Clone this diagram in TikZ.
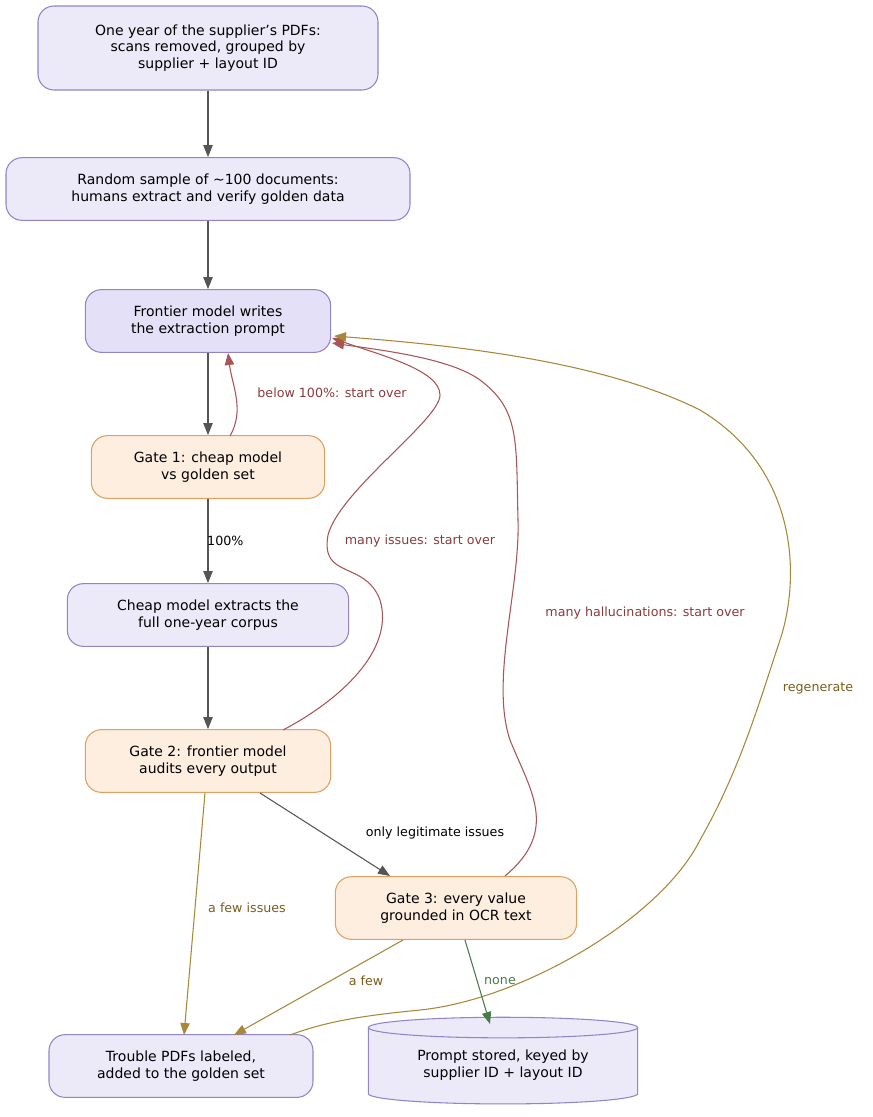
\documentclass[tikz,border=0pt]{standalone}
\usepackage{fontspec}
\setmainfont{DejaVu Sans}
\usetikzlibrary{arrows.meta,shapes.geometric}
\definecolor{lav}{HTML}{ECEAF9}
\definecolor{lavd}{HTML}{E4E0F7}
\definecolor{lavs}{HTML}{9384C8}
\definecolor{orf}{HTML}{FDEEE0}
\definecolor{ors}{HTML}{E0A060}
\definecolor{gedge}{HTML}{555555}
\definecolor{redge}{HTML}{A85555}
\definecolor{rlab}{HTML}{8B3A3A}
\definecolor{gold}{HTML}{A88838}
\definecolor{goldl}{HTML}{7A5C1E}
\definecolor{grn}{HTML}{4A7A4A}
\begin{document}
\begin{tikzpicture}[x=0.75pt,y=-0.75pt,
 box/.style={draw=lavs,fill=lav,line width=0.8pt,rounded corners=12pt,align=center,font=\fontsize{10.5}{12.5}\selectfont,inner sep=0pt},
 gate/.style={box,draw=ors,fill=orf},
 tip/.style={-{Triangle[length=9pt,width=7pt]}},
 ge/.style={tip,draw=gedge,color=gedge,line width=0.8pt},
 re/.style={tip,draw=redge,color=redge,line width=0.8pt},
 go/.style={tip,draw=gold,color=gold,line width=0.8pt},
 lab/.style={font=\fontsize{9.5}{11}\selectfont,inner sep=1pt,text=black}]
\useasboundingbox (0,0) rectangle (872,1117);
\node[box,minimum width=255pt,minimum height=63pt] (n1) at (208,48) {One year of the supplier's PDFs:\\scans removed, grouped by\\supplier + layout ID};
\node[box,minimum width=303pt,minimum height=47pt] (n2) at (208,189) {Random sample of \textasciitilde100 documents:\\humans extract and verify golden data};
\node[box,fill=lavd,minimum width=184pt,minimum height=47pt] (n3) at (208,321) {Frontier model writes\\the extraction prompt};
\node[gate,minimum width=175pt,minimum height=47pt] (g1) at (208,467) {Gate 1: cheap model\\vs golden set};
\node[box,minimum width=211pt,minimum height=47pt] (n5) at (208,615) {Cheap model extracts the\\full one-year corpus};
\node[gate,minimum width=184pt,minimum height=47pt] (g2) at (208,761) {Gate 2: frontier model\\audits every output};
\node[gate,minimum width=181pt,minimum height=47pt] (g3) at (456,908) {Gate 3: every value\\grounded in OCR text};
\node[box,minimum width=198pt,minimum height=47pt] (t) at (181,1066) {Trouble PDFs labeled,\\added to the golden set};
\node[cylinder,shape border rotate=90,aspect=0.12,draw=lavs,fill=lav,line width=0.8pt,minimum width=202pt,minimum height=65pt,align=center,font=\fontsize{10.5}{12.5}\selectfont,inner sep=0pt] (db) at (503,1066) {\\[-6pt]Prompt stored, keyed by\\supplier ID + layout ID};
\coordinate (g2a) at (260,793);
\coordinate (g3a) at (390,876);
\coordinate (g1a) at (230,436);
\coordinate (n3b) at (228,353);
\coordinate (n3e) at (332,338);
\draw[ge] (n1) -- (n2);
\draw[ge] (n2) -- (n3);
\draw[ge] (n3) -- (g1);
\draw[ge] (g1) -- node[lab,right,xshift=-2pt]{100\%} (n5);
\draw[ge] (n5) -- (g2);
\draw[ge] (g2a) -- (g3a);
\node[lab] at (435,833) {only legitimate issues};
\draw[re] (g1a) .. controls (245,410) and (232,385) .. (n3b);
\node[lab,text=rlab] at (332,393) {below 100\%: start over};
\draw[re] (283,730) .. controls (340,700) and (395,650) .. (380,600)
  .. controls (365,560) and (320,580) .. (328,535)
  .. controls (340,490) and (440,420) .. (440,395)
  .. controls (440,370) and (380,355) .. (n3e);
\node[lab,text=rlab] at (420,541) {many issues: start over};
\draw[re] (505,876) .. controls (560,830) and (530,790) .. (510,740)
  .. controls (490,680) and (520,590) .. (518,520)
  .. controls (516,440) and (520,410) .. (480,380)
  .. controls (450,358) and (380,350) .. (332,343);
\node[lab,text=rlab] at (645,613) {many hallucinations: start over};
\draw[go] (290,1035) .. controls (330,1020) and (370,1015) .. (420,1010)
  .. controls (520,1000) and (660,920) .. (700,840)
  .. controls (740,770) and (760,700) .. (780,640)
  .. controls (800,580) and (800,470) .. (700,410)
  .. controls (600,360) and (450,345) .. (334,336);
\node[lab,text=goldl] at (818,688) {regenerate};
\draw[go] (205,793) -- (184,1035);
\node[lab,text=goldl] at (247,908) {a few issues};
\draw[go] (403,940) -- (234,1035);
\node[lab,text=goldl] at (366,981) {a few};
\draw[tip,draw=grn,color=grn,line width=0.8pt] (465,940) -- (490,1024);
\node[lab,text=grn] at (500,981) {none};
\end{tikzpicture}
\end{document}
